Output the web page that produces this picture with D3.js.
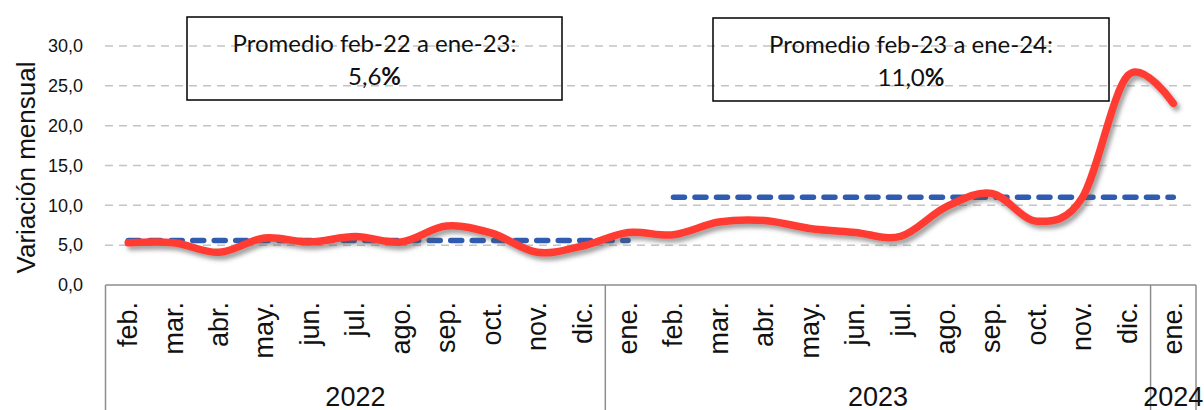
<!DOCTYPE html>
<meta charset="utf-8">
<style>
body { margin: 0; background: #fff; }
svg { display: block; font-family: "Liberation Sans", Arial, sans-serif; }
.grid line { stroke: #c4c4c4; stroke-width: 1.5; stroke-dasharray: 8,6; }
.frame line { stroke: #8c8c8c; stroke-width: 1.5; }
.box rect { fill: none; stroke: #000; stroke-width: 1.5; }
.box text { font-family: Lato, "Open Sans", sans-serif; font-size: 24px; fill: #111; }
</style>
<body>
<svg width="1204" height="410"></svg>
<script src="https://d3js.org/d3.v7.min.js"></script>
<script>
// monthly variation, feb-2022 .. ene-2024
var months = ["feb.", "mar.", "abr.", "may.", "jun.", "jul.", "ago.", "sep.", "oct.", "nov.", "dic.",
              "ene.", "feb.", "mar.", "abr.", "may.", "jun.", "jul.", "ago.", "sep.", "oct.", "nov.", "dic.",
              "ene."];
var years = ["2022", "2022", "2022", "2022", "2022", "2022", "2022", "2022", "2022", "2022", "2022",
             "2023", "2023", "2023", "2023", "2023", "2023", "2023", "2023", "2023", "2023", "2023", "2023",
             "2024"];
var variacion = [5.3, 5.3, 4.1, 5.9, 5.4, 6.1, 5.4, 7.4, 6.5, 4.1, 4.9,
                 6.6, 6.3, 7.9, 8.1, 7.1, 6.6, 6.1, 9.8, 11.5, 8.0, 11.0, 26.3,
                 22.8];

// the two 12-month averages
var promedioDesde = [0, 12];
var promedioHasta = [11, 23];
var promedioValor = [5.6, 11.0];
var promedioTitulo = ["Promedio feb-22 a ene-23:", "Promedio feb-23 a ene-24:"];

var yTicks = [0, 5, 10, 15, 20, 25, 30];

var svg = d3.select("svg");

var x = d3.scaleBand()
    .domain(d3.range(months.length))
    .range([105.5, 1196]);
var xc = function(i) { return x(i) + x.bandwidth() / 2; };

var y = d3.scaleLinear()
    .domain([0, 30])
    .range([285, 46]);

var fmt = function(v) { return d3.format(".1f")(v).replace(".", ","); };

// gridlines
svg.append("g").attr("class", "grid")
  .selectAll("line")
  .data(yTicks.filter(function(t) { return t > 0; }))
  .enter().append("line")
    .attr("x1", 105).attr("x2", 1196)
    .attr("y1", function(d) { return y(d); })
    .attr("y2", function(d) { return y(d); });

// y tick labels
svg.append("g")
  .selectAll("text")
  .data(yTicks)
  .enter().append("text")
    .attr("x", 83)
    .attr("y", function(d) { return y(d); })
    .attr("dy", "0.35em")
    .attr("text-anchor", "end")
    .style("font-size", "18px")
    .style("fill", "#111")
    .text(fmt);

svg.append("text")
    .attr("transform", "translate(35," + ((y(0) + y(30)) / 2 + 2) + ") rotate(-90)")
    .attr("text-anchor", "middle")
    .style("font-size", "26px")
    .style("fill", "#111")
    .text("Variación mensual");

// category axis frame
var yearStarts = [];
years.forEach(function(yr, i) { if (i === 0 || years[i - 1] !== yr) yearStarts.push(i); });
var frame = svg.append("g").attr("class", "frame");
frame.append("line")
    .attr("x1", x.range()[0]).attr("x2", x.range()[1])
    .attr("y1", y(0)).attr("y2", y(0));
var seps = yearStarts.map(function(i) { return x(i); }).concat([x.range()[1]]);
frame.selectAll(".sep")
  .data(seps)
  .enter().append("line")
    .attr("x1", function(d) { return d; })
    .attr("x2", function(d) { return d; })
    .attr("y1", y(0)).attr("y2", 410);

svg.append("g")
  .selectAll("text")
  .data(months)
  .enter().append("text")
    .attr("transform", function(d, i) { return "translate(" + xc(i) + ",302) rotate(-90)"; })
    .attr("dy", "0.33em")
    .attr("text-anchor", "end")
    .style("font-size", "27px")
    .style("fill", "#111")
    .text(function(d) { return d; });

svg.append("g")
  .selectAll("text")
  .data(yearStarts)
  .enter().append("text")
    .attr("x", function(s, k) {
        var e = k + 1 < yearStarts.length ? yearStarts[k + 1] : months.length;
        return (x(s) + x(e - 1) + x.bandwidth()) / 2;
    })
    .attr("y", 406)
    .attr("text-anchor", "middle")
    .style("font-size", "27px")
    .style("fill", "#111")
    .text(function(s) { return years[s]; });

// shadow for the main series
var defs = svg.append("defs");
defs.append("filter")
    .attr("id", "sombra")
    .attr("x", "-5%").attr("y", "-20%").attr("width", "110%").attr("height", "150%")
  .append("feDropShadow")
    .attr("dx", 3).attr("dy", 4)
    .attr("stdDeviation", 2.2)
    .attr("flood-color", "#555")
    .attr("flood-opacity", 0.55);

// average lines
promedioValor.forEach(function(v, k) {
    var pts = d3.range(promedioDesde[k], promedioHasta[k] + 1);
    svg.append("path")
        .attr("d", d3.line().x(function(d) { return xc(d); }).y(function() { return y(v); })(pts))
        .style("fill", "none")
        .style("stroke", "#2f5cb0")
        .style("stroke-width", 5.5)
        .style("stroke-linecap", "round")
        .style("stroke-dasharray", "11,10.5");
});

// main series
var line = d3.line()
    .x(function(d, i) { return xc(i); })
    .y(function(d) { return y(d); })
    .curve(d3.curveCardinal.tension(0));

svg.append("path")
    .datum(variacion)
    .attr("d", line)
    .attr("filter", "url(#sombra)")
    .style("fill", "none")
    .style("stroke", "#ff3b33")
    .style("stroke-width", 7.5)
    .style("stroke-linecap", "round")
    .style("stroke-linejoin", "round");

// annotation boxes
var boxes = [{x: 187, y: 17, w: 375, h: 83}, {x: 713, y: 18, w: 396, h: 83}];
boxes.forEach(function(b, k) {
    var g = svg.append("g").attr("class", "box");
    g.append("rect").attr("x", b.x).attr("y", b.y).attr("width", b.w).attr("height", b.h);
    g.append("text")
        .attr("x", b.x + b.w / 2).attr("y", b.y + 35)
        .attr("text-anchor", "middle")
        .text(promedioTitulo[k]);
    var t2 = g.append("text")
        .attr("x", b.x + b.w / 2).attr("y", b.y + 68)
        .attr("text-anchor", "middle");
    t2.append("tspan").text(fmt(promedioValor[k]));
    t2.append("tspan").style("font-weight", "bold").text("%");
});
</script>
</body>
